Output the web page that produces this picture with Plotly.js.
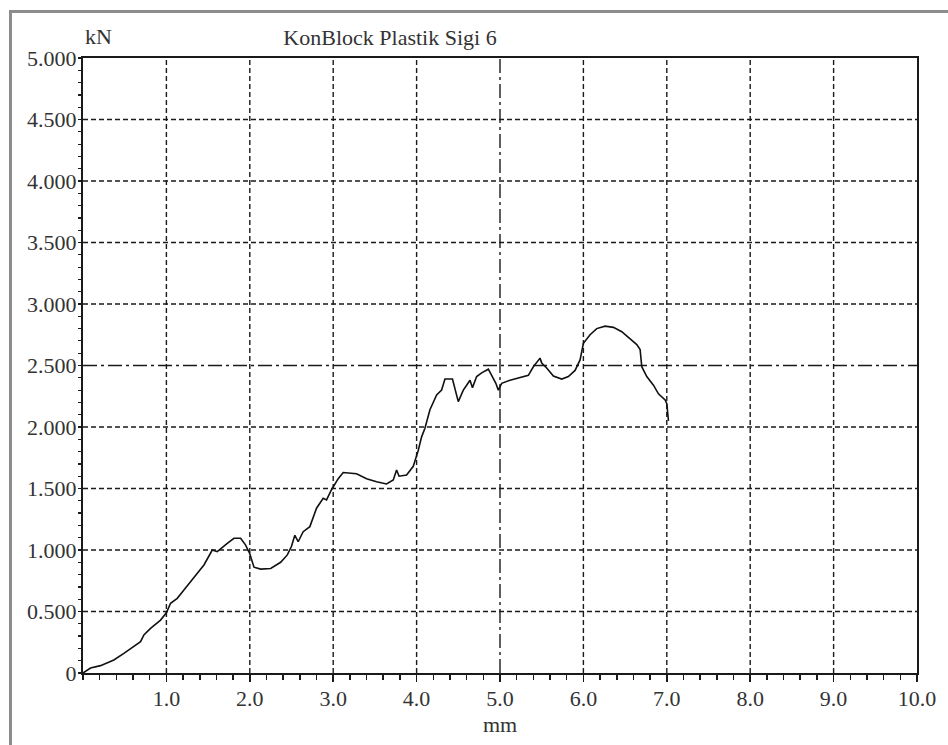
<!DOCTYPE html>
<html>
<head>
<meta charset="utf-8">
<script src="https://cdn.plot.ly/plotly-3.0.1.min.js"></script>
<style>
  html, body { margin: 0; padding: 0; background: #fff; }
  #wrap { position: relative; width: 948px; height: 745px; overflow: hidden; }
  #frame { position: absolute; left: 9px; top: 10px; width: 960px; height: 760px;
           border-top: 3px solid #8c8c8c; border-left: 3px solid #8c8c8c; pointer-events: none; z-index: 5; }
  #chart { position: absolute; left: 0; top: 0; width: 948px; height: 745px; }
</style>
</head>
<body>
<div id="wrap">
  <div id="chart"></div>
  <div id="frame"></div>
</div>
<script>
// ---- data ----
const chartTitle = "KonBlock Plastik Sigi 6";
const yUnit = "kN";
const xUnit = "mm";

const displacement = [
  0, 0.09, 0.21, 0.37, 0.49, 0.61, 0.69, 0.73, 0.81, 0.93,
  1.0, 1.05, 1.13, 1.21, 1.33, 1.45, 1.55, 1.61, 1.73, 1.81,
  1.89, 1.95, 2.0, 2.05, 2.13, 2.25, 2.37, 2.45, 2.50, 2.54,
  2.58, 2.64, 2.72, 2.80, 2.88, 2.92, 2.98, 3.06, 3.12, 3.28,
  3.40, 3.52, 3.64, 3.72, 3.76, 3.79, 3.88, 3.96, 4.02, 4.06,
  4.10, 4.16, 4.24, 4.30, 4.34, 4.43, 4.50, 4.56, 4.60, 4.64,
  4.67, 4.72, 4.78, 4.86, 4.90, 4.95, 4.98, 5.02, 5.12, 5.24,
  5.34, 5.40, 5.44, 5.48, 5.50, 5.56, 5.64, 5.74, 5.82, 5.90,
  5.96, 6.00, 6.08, 6.16, 6.26, 6.36, 6.46, 6.56, 6.64, 6.68,
  6.70, 6.76, 6.84, 6.90, 6.94, 6.98, 7.00, 7.01, 7.02
];
const force = [
  0, 0.04, 0.06, 0.106, 0.16, 0.214, 0.255, 0.31, 0.363, 0.43,
  0.49, 0.567, 0.607, 0.675, 0.78, 0.878, 1.0, 0.986, 1.054, 1.095,
  1.095, 1.04, 0.97, 0.86, 0.845, 0.85, 0.90, 0.96, 1.03, 1.12,
  1.067, 1.149, 1.19, 1.34, 1.42, 1.407, 1.49, 1.58, 1.63, 1.62,
  1.58, 1.555, 1.537, 1.57, 1.65, 1.60, 1.61, 1.68, 1.81, 1.92,
  1.99, 2.14, 2.26, 2.30, 2.39, 2.39, 2.206, 2.30, 2.34, 2.38,
  2.32, 2.41, 2.44, 2.47, 2.42, 2.355, 2.30, 2.355, 2.38, 2.40,
  2.42, 2.49, 2.53, 2.56, 2.52, 2.48, 2.415, 2.39, 2.41, 2.46,
  2.545, 2.68, 2.75, 2.80, 2.82, 2.81, 2.775, 2.72, 2.67, 2.63,
  2.49, 2.41, 2.34, 2.27, 2.245, 2.22, 2.19, 2.10, 2.05
];

const xTickVals = [1, 2, 3, 4, 5, 6, 7, 8, 9, 10];
const xTickText = ["1.0", "2.0", "3.0", "4.0", "5.0", "6.0", "7.0", "8.0", "9.0", "10.0"];
const yTickVals = [0, 0.5, 1, 1.5, 2, 2.5, 3, 3.5, 4, 4.5, 5];
const yTickText = ["0", "0.500", "1.000", "1.500", "2.000", "2.500", "3.000", "3.500", "4.000", "4.500", "5.000"];
const xGrid = [1, 2, 3, 4, 5, 6, 7, 8, 9];
const yGrid = [0.5, 1, 1.5, 2, 2.5, 3, 3.5, 4, 4.5];
const xSpecial = 5;
const ySpecial = 2.5;

// ---- styling ----
const FONT = "'Liberation Serif', 'Times New Roman', serif";
const INK = "#1a1a1a";
const DASH = "5px,3px";
const DASHDOT = "14px,4px,3px,4px";

const shapes = [];
xGrid.forEach(v => shapes.push({
  type: "line", xref: "x", yref: "y", x0: v, x1: v, y0: 0, y1: 5, layer: "below",
  line: { color: INK, width: 1.4, dash: v === xSpecial ? DASHDOT : DASH }
}));
yGrid.forEach(v => shapes.push({
  type: "line", xref: "x", yref: "y", x0: 0, x1: 10, y0: v, y1: v, layer: "below",
  line: { color: INK, width: 1.4, dash: v === ySpecial ? DASHDOT : DASH }
}));

const trace = {
  x: displacement, y: force, type: "scatter", mode: "lines",
  line: { color: "#111", width: 1.6 }, hoverinfo: "skip", showlegend: false
};

const layout = {
  width: 948, height: 745,
  margin: { l: 83, r: 31, t: 58, b: 72, pad: 0 },
  paper_bgcolor: "#ffffff", plot_bgcolor: "#ffffff",
  font: { family: FONT, size: 22, color: "#333" },
  title: {
    text: chartTitle, xref: "container", yref: "container",
    x: 390 / 948, xanchor: "center", y: 1 - 37 / 745, yanchor: "middle",
    font: { family: FONT, size: 22, color: "#333" }
  },
  xaxis: {
    range: [0, 10], tickmode: "array", tickvals: xTickVals, ticktext: xTickText,
    showgrid: false, zeroline: false, showline: true, linecolor: INK, linewidth: 2, mirror: true,
    ticks: "outside", ticklen: 7, tickwidth: 1.5, tickcolor: INK,
    minor: { dtick: 0.2, tick0: 0, ticks: "outside", ticklen: 5, tickwidth: 1.5, tickcolor: INK, showgrid: false },
    tickfont: { family: FONT, size: 22, color: "#333" }, ticklabelstandoff: -2,
    fixedrange: true
  },
  yaxis: {
    range: [0, 5], tickmode: "array", tickvals: yTickVals, ticktext: yTickText,
    showgrid: false, zeroline: false, showline: true, linecolor: INK, linewidth: 2, mirror: true,
    ticks: "outside", ticklen: 3, tickwidth: 1.5, tickcolor: INK,
    minor: { dtick: 0.1, tick0: 0, ticks: "outside", ticklen: 3, tickwidth: 1.2, tickcolor: INK, showgrid: false },
    tickfont: { family: FONT, size: 22, color: "#333" }, ticklabelstandoff: -3,
    fixedrange: true
  },
  shapes: shapes,
  annotations: [
    { text: yUnit, xref: "paper", yref: "paper", x: 0, xanchor: "left",
      y: (673 - 37) / 615, yanchor: "middle", showarrow: false,
      font: { family: FONT, size: 22, color: "#333" } },
    { text: xUnit, xref: "x", yref: "paper", x: 5, xanchor: "center",
      y: (673 - 724) / 615, yanchor: "middle", showarrow: false,
      font: { family: FONT, size: 22, color: "#333" } }
  ]
};

Plotly.newPlot("chart", [trace], layout, { staticPlot: true, displayModeBar: false });
</script>
</body>
</html>
